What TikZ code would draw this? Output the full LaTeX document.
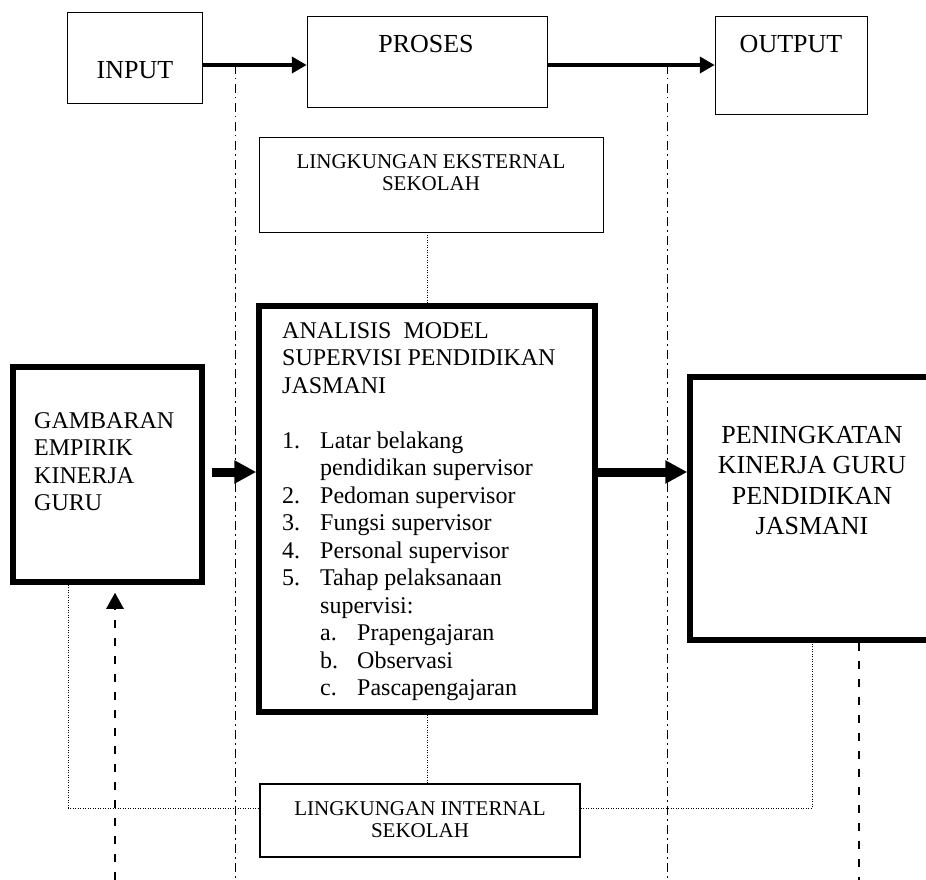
\documentclass[tikz,border=0pt]{standalone}
\usepackage{fontspec}
\setmainfont{Liberation Serif}
\usetikzlibrary{arrows.meta}

\newcommand{\listnum}[2]{\makebox[38pt][l]{#1}#2}
\newcommand{\listind}{\hspace*{38pt}}

\begin{document}
\begin{tikzpicture}[x=1pt,y=-1pt,
    box/.style={draw,line width=1.5pt,inner sep=0pt},
    heavybox/.style={draw,line width=5.5pt,inner sep=0pt},
    bigtxt/.style={inner sep=0pt,font=\fontsize{26}{30.5}\selectfont},
    midtxt/.style={inner sep=0pt,font=\fontsize{24}{27.5}\selectfont},
    smalltxt/.style={inner sep=0pt,font=\fontsize{21}{22}\selectfont},
    flow/.style={line width=4pt,-{Triangle[length=15pt,width=16pt]}},
    heavyflow/.style={line width=9pt,-{Triangle[length=22pt,width=22pt]}},
    divider/.style={line width=1pt,dash pattern=on 9pt off 4pt on 1.5pt off 4.5pt},
    link/.style={line width=1pt,dash pattern=on 1pt off 1.5pt},
    feedback/.style={line width=2.5pt,dash pattern=on 8pt off 10pt}]
  \clip (0,0) rectangle (926,880);

  % boxes
  \node[box,minimum width=135pt,minimum height=91pt] (input) at (135,58) {};
  \node[box,minimum width=240pt,minimum height=91pt] (proses) at (427.5,62) {};
  \node[box,minimum width=152pt,minimum height=98pt] (output) at (791.5,65.5) {};
  \node[box,minimum width=344pt,minimum height=95pt] (ekst) at (431.5,185) {};
  \node[heavybox,minimum width=336pt,minimum height=406pt] (analisis) at (427,509) {};
  \node[heavybox,minimum width=189pt,minimum height=215pt] (gambaran) at (107.5,474.5) {};
  \node[heavybox,minimum width=245pt,minimum height=263pt] (hasil) at (812.5,508.5) {};
  \node[box,minimum width=320pt,minimum height=73pt] (intern) at (420,820.5) {};

  % texts
  \node[bigtxt,anchor=base] (tin) at (135,79) {INPUT};
  \node[bigtxt,anchor=base] (tpro) at (426,53) {PROSES};
  \node[bigtxt,anchor=base] (tout) at (791,53) {OUTPUT};
  \node[smalltxt,align=center,anchor=north] (tekst) at (431,154) {LINGKUNGAN EKSTERNAL\\SEKOLAH};
  \node[midtxt,align=left,anchor=north west] (tana) at (282,322) {ANALISIS\ \ MODEL\\
    SUPERVISI PENDIDIKAN\\
    JASMANI\\[27.5pt]
    \listnum{1.}{Latar belakang}\\
    \listind pendidikan supervisor\\
    \listnum{2.}{Pedoman supervisor}\\
    \listnum{3.}{Fungsi supervisor}\\
    \listnum{4.}{Personal supervisor}\\
    \listnum{5.}{Tahap pelaksanaan}\\
    \listind supervisi:\\
    \listind\makebox[37pt][l]{a.}Prapengajaran\\
    \listind\makebox[37pt][l]{b.}Observasi\\
    \listind\makebox[37pt][l]{c.}Pascapengajaran};
  \node[midtxt,align=left,anchor=north west] (tgam) at (34,412) {GAMBARAN\\EMPIRIK\\KINERJA\\GURU};
  \node[bigtxt,align=center,anchor=north] (thas) at (812,426) {PENINGKATAN\\KINERJA GURU\\PENDIDIKAN\\JASMANI};
  \node[smalltxt,align=center,anchor=north] (tint) at (420,801) {LINGKUNGAN INTERNAL\\SEKOLAH};

  % dividers
  \draw[divider] (235,65) -- (235,880);
  \draw[divider] (667,65) -- (667,880);

  % main flow
  \draw[flow] ([yshift=-7pt]input.east) -- ([yshift=-7pt]input.east -| proses.west);
  \draw[flow] ([yshift=-3pt]proses.east) -- ([yshift=-3pt]proses.east -| output.west);
  \draw[heavyflow] ([xshift=7pt,yshift=2.5pt]gambaran.east) -- ([yshift=2.5pt]gambaran.east -| analisis.west);
  \draw[heavyflow] ([yshift=37pt]analisis.east) -- ([yshift=37pt]analisis.east -| hasil.west);

  % environment links
  \draw[link] (analisis.north) -- (analisis.north |- ekst.south);
  \draw[link] (analisis.south) -- (analisis.south |- intern.north);
  \draw[link] ([xshift=58pt]gambaran.south west) |- ([yshift=12.5pt]intern.west);
  \draw[link] ([yshift=12.5pt]intern.east) -| (hasil.south);

  % feedback
  \coordinate (fb) at (115,880);
  \draw[feedback,-{Triangle[length=16pt,width=17pt]},shorten >=8pt] (fb) -- (fb |- gambaran.south);
  \draw[feedback,line width=2pt] ([xshift=46.5pt]hasil.south) -- ++(0,240);
\end{tikzpicture}
\end{document}
